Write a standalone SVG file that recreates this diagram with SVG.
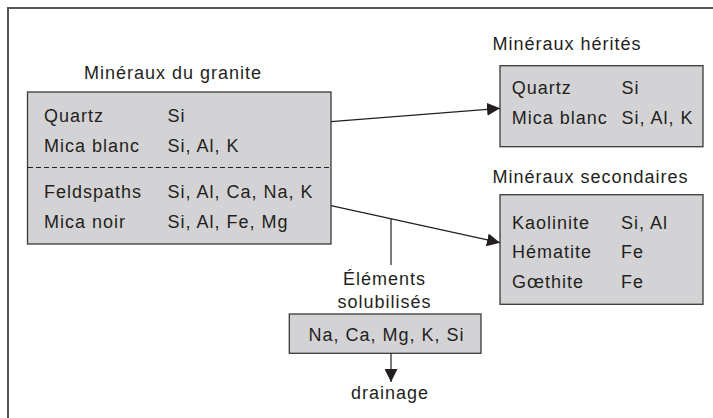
<svg xmlns="http://www.w3.org/2000/svg" width="713" height="418" viewBox="0 0 713 418">
<defs>
<style>
text{font-family:"Liberation Sans",Arial,sans-serif;font-size:18px;letter-spacing:1px;fill:#231f20}
.mid{text-anchor:middle}
.box{fill:#d3d3d5;stroke:#3a3a3a;stroke-width:1.3}
.ln{fill:none;stroke:#231f20;stroke-width:1.2}
.frame{fill:none;stroke:#555;stroke-width:2}
</style>
<marker id="ah" markerUnits="userSpaceOnUse" markerWidth="13" markerHeight="13" refX="13" refY="6.5" orient="auto">
<path d="M0,0 L13,6.5 L0,13 z" fill="#231f20"/>
</marker>
</defs>
<path class="frame" d="M8,418 V8 H713"/>
<g id="granite">
<text x="84" y="79">Minéraux du granite</text>
<rect class="box" x="27.5" y="92" width="303.5" height="152"/>
<line x1="28" y1="167.5" x2="331" y2="167.5" stroke="#231f20" stroke-width="1.2" stroke-dasharray="5,3"/>
<text x="44" y="121.7">Quartz</text><text x="167.5" y="121.7">Si</text>
<text x="44" y="151.7">Mica blanc</text><text x="167.5" y="151.7">Si, Al, K</text>
<text x="44" y="197.7">Feldspaths</text><text x="167.5" y="197.7">Si, Al, Ca, Na, K</text>
<text x="44" y="228">Mica noir</text><text x="167.5" y="228">Si, Al, Fe, Mg</text>
</g>
<g id="herites">
<text x="492.5" y="49.5">Minéraux hérités</text>
<rect class="box" x="500" y="65.7" width="203" height="81"/>
<text x="511.7" y="94.3">Quartz</text><text x="621.5" y="94.3">Si</text>
<text x="511.7" y="124.3">Mica blanc</text><text x="621.5" y="124.3">Si, Al, K</text>
</g>
<g id="secondaires">
<text x="492.5" y="183.3">Minéraux secondaires</text>
<rect class="box" x="500" y="194.7" width="203" height="109.6"/>
<text x="512" y="229">Kaolinite</text><text x="621" y="229">Si, Al</text>
<text x="512" y="258.3">Hématite</text><text x="621" y="258.3">Fe</text>
<text x="512" y="287.7">Gœthite</text><text x="621" y="287.7">Fe</text>
</g>
<g id="solubles">
<text class="mid" x="384.5" y="285">Éléments</text>
<text class="mid" x="384.5" y="308.3">solubilisés</text>
<rect class="box" x="289.3" y="314" width="191.7" height="39.3"/>
<text class="mid" x="386.5" y="341">Na, Ca, Mg, K, Si</text>
</g>
<g id="drainage">
<text class="mid" x="390" y="399">drainage</text>
</g>
<g id="connectors">
<line class="ln" x1="331" y1="121.7" x2="500" y2="108.3" marker-end="url(#ah)"/>
<line class="ln" x1="331" y1="205.7" x2="500" y2="242.7" marker-end="url(#ah)"/>
<line class="ln" x1="391" y1="218.8" x2="391" y2="265"/>
<line class="ln" x1="391" y1="353.3" x2="391" y2="382" marker-end="url(#ah)"/>
</g>
</svg>
